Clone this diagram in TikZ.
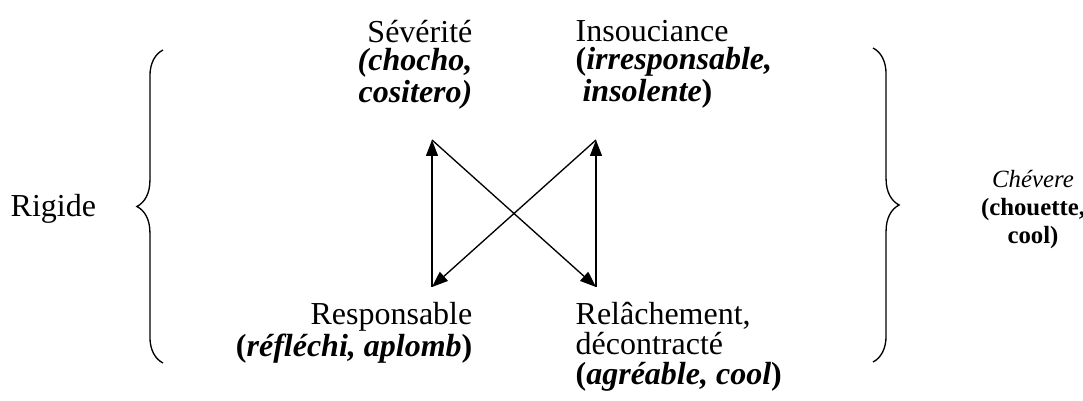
\documentclass[tikz,border=0pt]{standalone}
\usepackage{fontspec}
\setmainfont{Liberation Serif}
\usetikzlibrary{arrows.meta}
\usetikzlibrary{decorations.pathreplacing}

\begin{document}
\begin{tikzpicture}[x=0.375pt,y=-0.375pt,line width=0.5pt,
        >={Triangle[length=6pt,width=4.5pt]},
        every node/.style={inner sep=0pt,font=\fontsize{12}{10.4}\selectfont},
        brace/.style={decorate,decoration={brace,amplitude=9.8pt}}]
                \useasboundingbox (0,0) rectangle (1083,401);
                \node[anchor=north east,align=right] (sev) at (473,20) {Sévérité\\\textbf{\textit{(chocho,}}\\\textbf{\textit{cositero)}}};
                \node[anchor=north west,align=left] (ins) at (575,20) {Insouciance\\\textbf{(\textit{irresponsable,}}\\\hspace{2.6pt}\textbf{\textit{insolente})}};
                \node[anchor=north east,align=right] (res) at (473,302) {Responsable\\\textbf{(\textit{réfléchi, aplomb})}};
                \node[anchor=north west,align=left,font=\fontsize{12}{11.2}\selectfont] (rel) at (575,302) {Relâchement,\\décontracté\\\textbf{(\textit{agréable, cool})}};
                \node[anchor=base west] (rig) at (10,217) {Rigide};
                \node[anchor=north,align=center,font=\fontsize{9.3}{10.5}\selectfont] (chev) at (1033,170) {\textit{Chévere}\\\textbf{(chouette,}\\\textbf{cool)}};
                \coordinate (tl) at (432,140);
                \coordinate (tr) at (596,140);
                \coordinate (bl) at (432,287);
                \coordinate (br) at (596,287);
                \path[->]
                (bl) edge (tl)
                (br) edge (tr)
                (tl) edge (br)
                (tr) edge (bl);
                \draw[brace] (163,363) -- (163,50);
                \draw[brace] (873,48) -- (873,362);
            \end{tikzpicture}
\end{document}
